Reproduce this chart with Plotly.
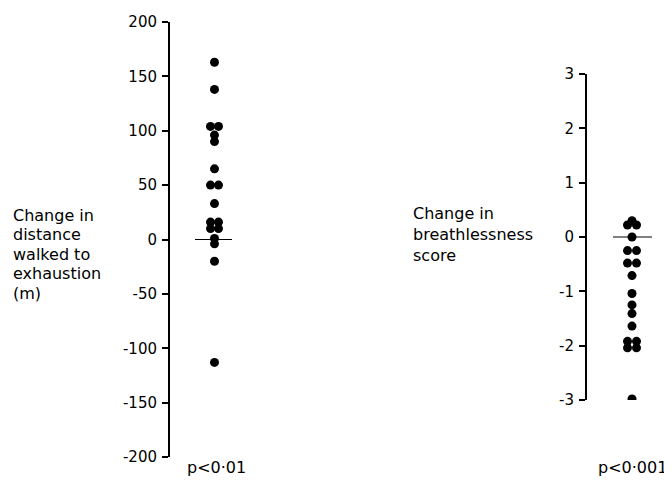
import plotly.graph_objects as go
from collections import Counter

# ---- data ----
distance_change = [163, 138, 104, 104, 96, 90, 65, 50, 50, 33, 16, 16, 10, 10, 1, -4, -20, -113]
breath_change = [0.3, 0.22, 0.22, 0, -0.25, -0.25, -0.48, -0.48, -0.71, -1.04, -1.25,
                 -1.41, -1.64, -1.92, -1.92, -2.04, -2.04, -2.98]
reference_level = [0, 0]
left_ticks = [200, 150, 100, 50, 0, -50, -100, -150, -200]
right_ticks = [3, 2, 1, 0, -1, -2, -3]
left_label = ["Change in", "distance", "walked to", "exhaustion", "(m)"]
right_label = ["Change in", "breathlessness", "score"]
left_p = "p<0·01"
right_p = "p<0·001"

# the page body adds an 8px margin, so the figure is laid out in a 664x472 box
OFF = 8
W, H = 672 - OFF, 480 - OFF
FONT = "DejaVu Sans"


def px(x):
    return (x - OFF) / W


def py(y):
    return 1 - (y - OFF) / H


def spread(values, centre, gap):
    """place equal values side by side around the centre (dot-plot style)"""
    counts = Counter(values)
    seen = Counter()
    xs = []
    for v in values:
        n = counts[v]
        k = seen[v]
        seen[v] += 1
        xs.append(centre + (k - (n - 1) / 2) * gap)
    return xs


fig = go.Figure()

# left panel (x units = pixels from axis)
fig.add_trace(go.Scatter(x=spread(distance_change, 44.5, 8), y=distance_change, mode="markers",
                         marker=dict(color="black", size=9), xaxis="x", yaxis="y",
                         showlegend=False, hoverinfo="y"))
fig.add_trace(go.Scatter(x=[25, 62], y=reference_level, mode="lines",
                         line=dict(color="black", width=1.2), xaxis="x", yaxis="y",
                         showlegend=False, hoverinfo="skip"))

# right panel
fig.add_trace(go.Scatter(x=spread(breath_change, 45, 9), y=breath_change, mode="markers",
                         marker=dict(color="black", size=9), xaxis="x2", yaxis="y2",
                         showlegend=False, hoverinfo="y"))
fig.add_trace(go.Scatter(x=[26, 65], y=reference_level, mode="lines",
                         line=dict(color="black", width=1.2), xaxis="x2", yaxis="y2",
                         showlegend=False, hoverinfo="skip"))

axis_common = dict(showline=True, linecolor="black", linewidth=2, ticks="outside",
                   ticklen=6, tickwidth=1.5, tickcolor="black", showgrid=False,
                   zeroline=False, tickfont=dict(family=FONT, size=15, color="black"),
                   ticklabelstandoff=2, automargin=False)

fig.update_layout(
    width=W, height=H,
    margin=dict(l=0, r=0, t=0, b=0, autoexpand=False),
    paper_bgcolor="white", plot_bgcolor="white",
    xaxis=dict(domain=[px(170), px(260)], range=[0, 90], visible=False, automargin=False),
    yaxis=dict(domain=[py(457), py(22)], range=[-200, 200], tickvals=left_ticks,
               ticktext=[str(t) for t in left_ticks], anchor="x", **axis_common),
    xaxis2=dict(domain=[px(587), px(672)], range=[0, 85], visible=False, automargin=False),
    yaxis2=dict(domain=[py(400), py(74)], range=[-3, 3], tickvals=right_ticks,
                ticktext=[str(t) for t in right_ticks], anchor="x2", **axis_common),
)

lab_font = dict(family=FONT, size=16, color="black")
for i, line in enumerate(left_label):
    fig.add_annotation(text=line, x=px(11), y=py(215 + 19.5 * i), xref="paper", yref="paper",
                       xanchor="left", yanchor="middle", align="left", showarrow=False,
                       font=lab_font)
for i, line in enumerate(right_label):
    fig.add_annotation(text=line, x=px(411), y=py(214 + 20.5 * i), xref="paper", yref="paper",
                       xanchor="left", yanchor="middle", align="left", showarrow=False,
                       font=lab_font)
fig.add_annotation(text=left_p, x=px(185), y=py(467), xref="paper", yref="paper",
                   xanchor="left", yanchor="middle", showarrow=False, font=lab_font)
fig.add_annotation(text=right_p, x=px(669), y=py(467), xref="paper", yref="paper",
                   xanchor="right", yanchor="middle", showarrow=False, font=lab_font)

fig.write_html("out.html")
